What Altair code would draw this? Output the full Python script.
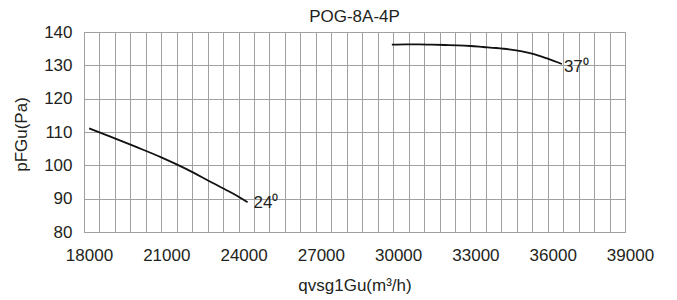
import altair as alt
import pandas as pd

title_text = "POG-8A-4P"
x_title = "qvsg1Gu(m³/h)"
y_title = "pFGu(Pa)"

flow_24 = [18200, 19000, 20000, 21000, 22000, 23000, 23600, 24000, 24350]
press_24 = [111.1, 108.7, 105.6, 102.4, 98.8, 94.7, 92.3, 90.6, 88.9]
flow_37 = [29950, 30500, 31000, 31500, 32000, 32500, 33000, 33500, 34000,
           34500, 35000, 35500, 36000, 36550]
press_37 = [136.2, 136.3, 136.3, 136.2, 136.1, 136.0, 135.8, 135.5, 135.2,
            134.8, 134.2, 133.3, 132.0, 130.4]
curve_labels = ["24⁰", "37⁰"]

x_grid = list(range(18000, 39001, 600))
y_ticks = [80, 90, 100, 110, 120, 130, 140]

FONT = "Liberation Sans"
TXT = "#231f20"
GRID = "#a0a0a0"

rows = []
for lab, xs, ys in [(curve_labels[0], flow_24, press_24), (curve_labels[1], flow_37, press_37)]:
    for i, (a, b) in enumerate(zip(xs, ys)):
        rows.append({"series": lab, "flow": a, "pressure": b, "order": i})
df = pd.DataFrame(rows)

x_scale = alt.Scale(domain=[18000, 39000], nice=False, zero=False)
y_scale = alt.Scale(domain=[80, 140], nice=False, zero=False)

x_axis = alt.Axis(
    title=x_title, values=x_grid, format="d",
    labelExpr="datum.value % 3000 == 0 ? datum.label : ''",
    labelOverlap=False, labelFlush=False, ticks=False, tickSize=0,
    labelBaseline="alphabetic", labelPadding=28, labelFontSize=17, labelOffset=5,
    labelFont=FONT, labelColor=TXT,
    grid=True, gridColor=GRID, gridWidth=1, gridOpacity=1,
    domainColor=GRID, domainWidth=1,
    titleFont=FONT, titleFontSize=17, titleFontWeight="normal", titleColor=TXT,
    titleBaseline="alphabetic", titleY=58,
)
y_axis = alt.Axis(
    title=y_title, values=y_ticks, ticks=False, tickSize=0,
    labelOverlap=False,
    labelPadding=12, labelFontSize=17, labelFont=FONT, labelColor=TXT,
    labelBaseline="middle",
    grid=True, gridColor=GRID, gridWidth=1, gridOpacity=1,
    domainColor=GRID, domainWidth=1,
    titleFont=FONT, titleFontSize=17, titleFontWeight="normal", titleColor=TXT,
    titleBaseline="alphabetic", titleX=-58, titleY=102, titleAngle=270,
)

lines = alt.Chart(df).mark_line(color="#111111", strokeWidth=1.8, interpolate="monotone").encode(
    x=alt.X("flow:Q", scale=x_scale, axis=x_axis),
    y=alt.Y("pressure:Q", scale=y_scale, axis=y_axis),
    detail="series:N",
    order="order:Q",
)

label_offsets = {curve_labels[0]: (6, 1), curve_labels[1]: (2, 3)}
label_layers = []
for lab, xs, ys in [(curve_labels[0], flow_24, press_24), (curve_labels[1], flow_37, press_37)]:
    ldf = pd.DataFrame({"flow": [xs[-1]], "pressure": [ys[-1]], "label": [lab]})
    dx, dy = label_offsets[lab]
    label_layers.append(
        alt.Chart(ldf).mark_text(align="left", baseline="middle", dx=dx, dy=dy,
                                 font=FONT, fontSize=17, color=TXT).encode(
            x=alt.X("flow:Q", scale=x_scale, axis=x_axis),
            y=alt.Y("pressure:Q", scale=y_scale, axis=y_axis),
            text="label:N",
        )
    )

chart = alt.layer(lines, *label_layers).properties(
    width=541, height=200,
    title=alt.TitleParams(text=title_text, font=FONT, fontSize=17, fontWeight="normal",
                          color=TXT, anchor="middle", baseline="alphabetic", offset=5, dy=21),
    autosize=alt.AutoSizeParams(type="none"),
    padding={"left": 76, "top": 24, "right": 44, "bottom": 68},
).configure_view(stroke=GRID, strokeWidth=1)

chart.save("out.html", embed_options={"renderer": "svg", "actions": False})
